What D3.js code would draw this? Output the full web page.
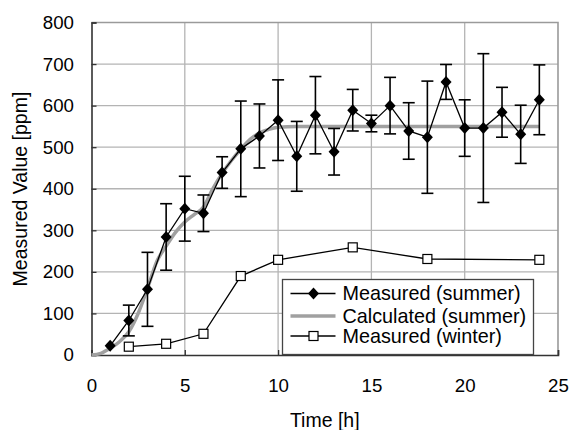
<!DOCTYPE html>
<html>
<head>
<meta charset="utf-8">
<script src="https://cdn.jsdelivr.net/npm/d3@7"></script>
<style>
  html, body { margin: 0; padding: 0; background: #fff; }
  svg { display: block; font-family: "Liberation Sans", Arial, sans-serif; }
</style>
</head>
<body>
<svg id="chart" width="571" height="430"></svg>
<script>
// Summer measurements: time [h], value [ppm], error (±)
const summerTime  = [1, 2, 3, 4, 5, 6, 7, 8, 9, 10, 11, 12, 13, 14, 15, 16, 17, 18, 19, 20, 21, 22, 23, 24];
const summerValue = [22, 83, 158, 284, 352, 341, 439, 496, 527, 565, 478, 577, 489, 589, 557, 600, 539, 524, 657, 546, 546, 584, 531, 614];
const summerError = [0, 37, 89, 80, 78, 44, 38, 115, 77, 97, 84, 93, 56, 50, 20, 68, 68, 135, 42, 68, 179, 60, 70, 84];

// Model curve (summer)
const calcTime  = [0, 0.5, 1, 1.5, 2, 2.5, 3, 3.5, 4, 4.5, 5, 5.5, 6, 6.5, 7, 7.5, 8, 8.5, 9, 9.5, 10, 11, 12, 14, 16, 18, 20, 22, 24];
const calcValue = [0, 4, 16, 32, 56, 100, 160, 225, 262, 295, 320, 338, 356, 400, 437, 468, 495, 519, 534, 543, 548, 550, 550, 550, 550, 550, 550, 550, 550];

// Winter measurements
const winterTime  = [2, 4, 6, 8, 10, 14, 18, 24];
const winterValue = [20, 27, 51, 190, 229, 259, 231, 229];

const xTicks = [0, 5, 10, 15, 20, 25];
const yTicks = [0, 100, 200, 300, 400, 500, 600, 700, 800];

const seriesNames = ["Measured (summer)", "Calculated (summer)", "Measured (winter)"];

const svg = d3.select("#chart");
const W = 571, H = 430;
const margin = { left: 91.5, right: W - 558, top: 22.5, bottom: H - 355 };

const x = d3.scaleLinear().domain([0, 25]).range([margin.left, W - margin.right]);
const y = d3.scaleLinear().domain([0, 800]).range([H - margin.bottom, margin.top]);

// gridlines
const grid = svg.append("g").attr("stroke", "#b4b4b4").attr("stroke-width", 1.3);
grid.selectAll("line.h").data(yTicks.slice(1, -1)).join("line")
  .attr("x1", x(0)).attr("x2", x(25)).attr("y1", d => y(d)).attr("y2", d => y(d));
grid.selectAll("line.v").data(xTicks.slice(1, -1)).join("line")
  .attr("y1", y(0)).attr("y2", y(800)).attr("x1", d => x(d)).attr("x2", d => x(d));

// frame: top and right in gray
svg.append("path")
  .attr("d", `M${x(0)},${y(800)}H${x(25)}V${y(0)}`)
  .attr("fill", "none").attr("stroke", "#9a9a9a").attr("stroke-width", 1.6);

// axes
const yAxis = d3.axisLeft(y).tickValues(yTicks).tickSize(-5).tickPadding(17.5);
const gy = svg.append("g").attr("transform", `translate(${x(0)},0)`).call(yAxis);
const xAxis = d3.axisBottom(x).tickValues(xTicks).tickSize(-5).tickPadding(23.3);
const gx = svg.append("g").attr("transform", `translate(0,${y(0)})`).call(xAxis);
[gx, gy].forEach(g => {
  g.select(".domain").attr("stroke", "#333").attr("stroke-width", 1.6);
  g.selectAll(".tick line").attr("stroke", "#333").attr("stroke-width", 1.3);
  g.selectAll(".tick text").attr("font-size", 18.7).attr("fill", "#000")
    .attr("font-family", "Liberation Sans, Arial, sans-serif");
});

// axis titles
svg.append("text").attr("x", (x(0) + x(25)) / 2).attr("y", 427)
  .attr("text-anchor", "middle").attr("font-size", 19.5).text("Time [h]");
svg.append("text")
  .attr("transform", `translate(27,189) rotate(-90)`)
  .attr("text-anchor", "middle").attr("font-size", 19.5).text("Measured Value [ppm]");

// winter series
const winter = winterTime.map((t, i) => ({ t, v: winterValue[i] }));
svg.append("path").datum(winter)
  .attr("d", d3.line().x(d => x(d.t)).y(d => y(d.v)))
  .attr("fill", "none").attr("stroke", "#000").attr("stroke-width", 1.3);
svg.append("g").selectAll("rect").data(winter).join("rect")
  .attr("x", d => x(d.t) - 4.5).attr("y", d => y(d.v) - 4.5)
  .attr("width", 9).attr("height", 9)
  .attr("fill", "#fff").attr("stroke", "#000").attr("stroke-width", 1.2);

// model curve
const calc = calcTime.map((t, i) => ({ t, v: calcValue[i] }));
svg.append("path").datum(calc)
  .attr("d", d3.line().curve(d3.curveMonotoneX).x(d => x(d.t)).y(d => y(d.v)))
  .attr("fill", "none").attr("stroke", "#a0a0a0").attr("stroke-width", 3.5);

// summer series with error bars
const summer = summerTime.map((t, i) => ({ t, v: summerValue[i], e: summerError[i] }));
const eb = svg.append("g").attr("stroke", "#000").attr("stroke-width", 1.6);
summer.filter(d => d.e > 0).forEach(d => {
  eb.append("line").attr("x1", x(d.t)).attr("x2", x(d.t))
    .attr("y1", y(d.v - d.e)).attr("y2", y(d.v + d.e));
  [d.v - d.e, d.v + d.e].forEach(v => {
    eb.append("line").attr("x1", x(d.t) - 6).attr("x2", x(d.t) + 6)
      .attr("y1", y(v)).attr("y2", y(v));
  });
});
svg.append("path").datum(summer)
  .attr("d", d3.line().x(d => x(d.t)).y(d => y(d.v)))
  .attr("fill", "none").attr("stroke", "#000").attr("stroke-width", 1.3);
const diamond = "M0,-6L5.5,0L0,6L-5.5,0Z";
svg.append("g").selectAll("path").data(summer).join("path")
  .attr("transform", d => `translate(${x(d.t)},${y(d.v)})`)
  .attr("d", diamond).attr("fill", "#000");

// legend
const lg = svg.append("g").attr("transform", "translate(282.5,279.5)");
lg.append("rect").attr("width", 251).attr("height", 75)
  .attr("fill", "#fff").attr("stroke", "#444").attr("stroke-width", 1.3);
const rowsY = [14, 36.5, 56.5];
seriesNames.forEach((name, i) => {
  const g = lg.append("g").attr("transform", `translate(0,${rowsY[i]})`);
  if (i === 1) {
    g.append("line").attr("x1", 8).attr("x2", 53).attr("stroke", "#a0a0a0").attr("stroke-width", 3.5);
  } else {
    g.append("line").attr("x1", 8).attr("x2", 53).attr("stroke", "#000").attr("stroke-width", 1.3);
    if (i === 0) g.append("path").attr("transform", "translate(31,0)").attr("d", diamond).attr("fill", "#000");
    else g.append("rect").attr("x", 26.5).attr("y", -4.5).attr("width", 9).attr("height", 9)
      .attr("fill", "#fff").attr("stroke", "#000").attr("stroke-width", 1.2);
  }
  g.append("text").attr("x", 60).attr("y", 6.5).attr("font-size", 19.8).text(name);
});
</script>
</body>
</html>
